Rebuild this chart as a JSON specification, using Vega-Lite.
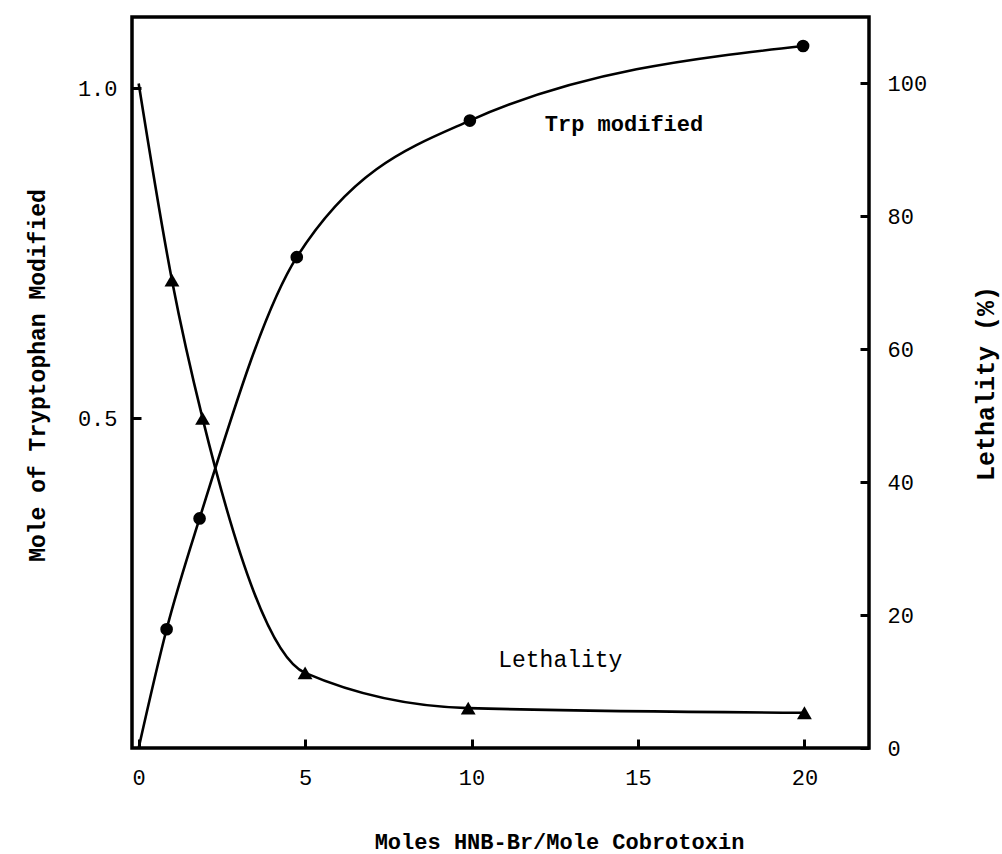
{
  "$schema": "https://vega.github.io/schema/vega-lite/v6.json",
  "autosize": {"type": "none"},
  "width": 737,
  "height": 731,
  "padding": {"left": 132, "top": 17, "right": 133, "bottom": 106},
  "background": "white",
  "config": {
    "font": "Liberation Mono",
    "view": {"stroke": "black", "strokeWidth": 3.5},
    "axis": {
      "domain": false, "ticks": true, "offset": -9,
      "tickColor": "black", "tickWidth": 3, "tickSize": 9,
      "labelColor": "black", "labelFont": "Liberation Mono", "labelFontSize": 22,
      "titleFont": "Liberation Mono", "titleFontSize": 23, "titleFontWeight": "bold", "titleColor": "black",
      "grid": false
    }
  },
  "datasets": {
    "trp_curve": [
      {"moles": 0, "trp": 0},
      {"moles": 0.84, "trp": 0.18},
      {"moles": 1.83, "trp": 0.348},
      {"moles": 4.75, "trp": 0.744},
      {"moles": 9.95, "trp": 0.951},
      {"moles": 19.96, "trp": 1.064}
    ],
    "trp_points": [
      {"moles": 0.84, "trp": 0.18},
      {"moles": 1.83, "trp": 0.348},
      {"moles": 4.75, "trp": 0.744},
      {"moles": 9.95, "trp": 0.951},
      {"moles": 19.96, "trp": 1.064}
    ],
    "leth_curve": [
      {"moles": 0, "lethality": 100},
      {"moles": 1.0, "lethality": 70.4},
      {"moles": 1.92, "lethality": 49.6},
      {"moles": 5.0, "lethality": 11.3},
      {"moles": 9.9, "lethality": 6.0},
      {"moles": 20.0, "lethality": 5.3}
    ],
    "leth_points": [
      {"moles": 1.0, "lethality": 70.4},
      {"moles": 1.92, "lethality": 49.6},
      {"moles": 5.0, "lethality": 11.3},
      {"moles": 9.9, "lethality": 6.0},
      {"moles": 20.0, "lethality": 5.3}
    ],
    "labels_trp": [{"moles": 12.2, "trp": 0.946, "label": "Trp modified"}],
    "labels_leth": [{"moles": 10.8, "lethality": 13.2, "label": "Lethality"}]
  },
  "encoding": {
    "x": {
      "field": "moles", "type": "quantitative",
      "scale": {"domain": [-0.2, 21.94], "nice": false, "zero": false},
      "axis": {
        "values": [0, 5, 10, 15, 20], "format": "d",
        "labelPadding": 19,
        "title": "Moles HNB-Br/Mole Cobrotoxin",
        "titleX": 427, "titleY": 102, "titleAlign": "center", "titleBaseline": "middle", "titleFontSize": 22
      }
    }
  },
  "layer": [
    {
      "encoding": {
        "y": {
          "field": "trp", "type": "quantitative",
          "scale": {"domain": [0, 1.108], "nice": false, "zero": false},
          "axis": {
            "orient": "left", "values": [0.5, 1.0], "format": ".1f",
            "labelPadding": 15,
            "title": "Mole of Tryptophan Modified",
            "titleAngle": 270, "titleX": -104, "titleY": 358, "titleAlign": "center", "titleBaseline": "middle"
          }
        }
      },
      "layer": [
        {"data": {"name": "trp_curve"}, "mark": {"type": "line", "color": "black", "strokeWidth": 2.6, "interpolate": "monotone"}},
        {"data": {"name": "trp_points"}, "mark": {"type": "point", "shape": "circle", "filled": true, "color": "black", "opacity": 1, "size": 160}},
        {"data": {"name": "labels_trp"}, "mark": {"type": "text", "align": "left", "baseline": "middle", "fontSize": 22, "fontWeight": "bold", "color": "black", "font": "Liberation Mono"}, "encoding": {"text": {"field": "label"}}}
      ]
    },
    {
      "encoding": {
        "y": {
          "field": "lethality", "type": "quantitative",
          "scale": {"domain": [0, 110], "nice": false, "zero": false},
          "axis": {
            "orient": "right", "values": [0, 20, 40, 60, 80, 100],
            "labelPadding": 18,
            "title": "Lethality (%)",
            "titleAngle": 270, "titleX": 125, "titleY": 366, "titleAlign": "center", "titleBaseline": "middle", "titleFontSize": 25
          }
        }
      },
      "layer": [
        {"data": {"name": "leth_curve"}, "mark": {"type": "line", "color": "black", "strokeWidth": 2.6, "interpolate": "monotone"}},
        {"data": {"name": "leth_points"}, "mark": {"type": "point", "shape": "triangle-up", "filled": true, "color": "black", "opacity": 1, "size": 220}},
        {"data": {"name": "labels_leth"}, "mark": {"type": "text", "align": "left", "baseline": "middle", "fontSize": 23, "color": "black", "font": "Liberation Mono"}, "encoding": {"text": {"field": "label"}}}
      ]
    }
  ],
  "resolve": {"scale": {"y": "independent"}}
}
